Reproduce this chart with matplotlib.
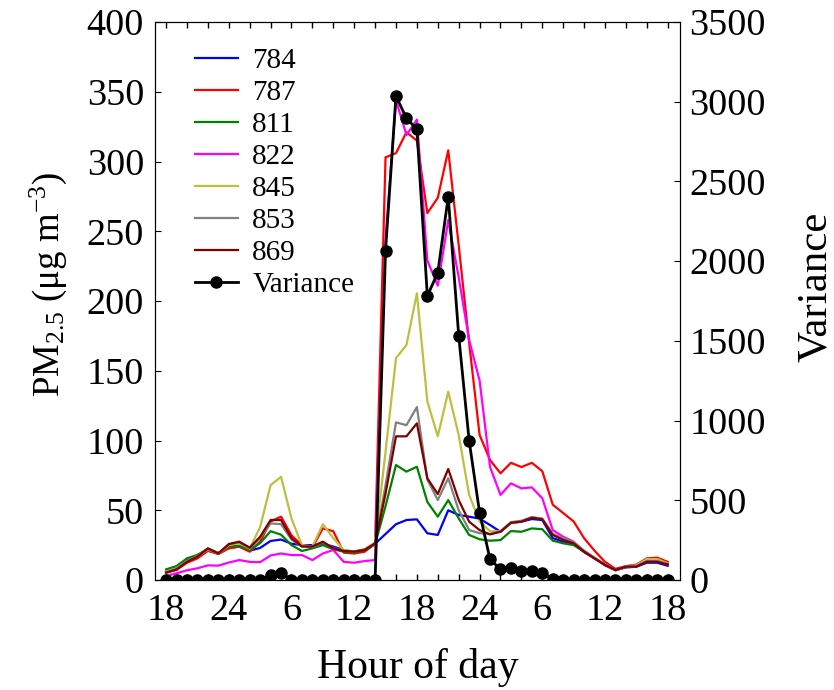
import numpy as np
import matplotlib.pyplot as plt
from matplotlib.ticker import MultipleLocator

plt.rcParams['font.family'] = 'Liberation Serif'
plt.rcParams['mathtext.fontset'] = 'custom'
plt.rcParams['mathtext.rm'] = 'Liberation Serif'
plt.rcParams['mathtext.it'] = 'Liberation Serif:italic'

# hours since 18:00 of day one
hours = list(range(49))
tick_labels = ['18', '24', '6', '12', '18', '24', '6', '12', '18']

s784 = [6, 9, 14, 17, 21, 19, 23, 24, 21, 23, 28, 29, 26, 25, 25, 26, 24, 21.5, 20, 21,
        26, 33, 40, 43, 43.5, 33.5, 32.3, 50, 46.6, 45.4, 44, 39.4, 34.6, 41, 41.8, 43.7, 43,
        30, 27.5, 26, 20, 15.5, 10.5, 7, 9, 9.5, 12.4, 12.4, 10.2]
s787 = [5.3, 7.2, 12.4, 15.5, 21, 18.6, 22.7, 23.9, 20.3, 27.5, 42, 45.4, 32, 25, 23.4, 37,
        35, 19.6, 19, 20.3, 26, 303, 306, 321, 315, 263, 274, 308, 240, 170, 104, 86, 76.5,
        84, 81, 84, 78, 54, 48, 42, 30, 21, 13, 8, 10, 11, 15.5, 16, 13]
s811 = [7.6, 10, 15.5, 18, 22.5, 19.5, 24, 24.6, 21.5, 26.5, 35, 32.5, 25, 20.8, 22.7, 25,
        22, 20.3, 19.6, 21.5, 25.5, 53, 82.4, 77.7, 81.2, 56, 45.4, 57.3, 44.2, 32.3, 29.2,
        28.2, 28.6, 35.1, 34.6, 37, 36.4, 28.2, 26.3, 25, 20.3, 15.5, 11.2, 7, 9.5, 10, 14,
        14, 12]
s822 = [2.9, 4.8, 7, 8.4, 10.5, 10.3, 12.5, 14.3, 13, 12.8, 17.6, 19, 17.9, 17.9, 14.3, 19,
        21.5, 13, 12.4, 13.6, 14.3, 245, 344, 319, 330, 229, 211, 258, 217, 172, 143, 81, 61,
        69.3, 65.7, 66.4, 58.6, 35.8, 31, 27.5, 20.5, 15.5, 11, 7, 9.5, 10, 14, 14, 11.5]
s845 = [6, 8.5, 13.5, 17, 22, 19, 25, 26.5, 22.5, 38, 68, 74, 44, 25, 24, 40, 30, 21.5,
        20.5, 22, 27, 92, 159, 168.5, 205.5, 128, 103, 135, 104, 61, 42, 35, 35, 41, 42, 45,
        44, 33, 29, 27, 21, 16, 11, 7, 9.8, 10.5, 15, 15, 12]
s853 = [5.5, 8, 13.5, 17, 22.5, 19, 25.5, 27, 22.8, 30, 40.6, 40, 29, 24, 24, 27, 23, 21,
        20.5, 22, 26, 68, 113, 111, 124, 72, 57.3, 73, 50, 35.8, 33.6, 33, 35, 41.5, 42.5, 45,
        44, 33, 30, 27, 21, 16, 11, 7, 9.6, 10, 13.5, 13.5, 11.5]
s869 = [5.3, 7.6, 13, 16.7, 22.7, 19, 25.8, 27.5, 23.2, 31, 43, 43, 30, 24, 24, 27.5, 22.7,
        20.8, 20.3, 21.5, 26.3, 62, 103, 103, 112.3, 72.9, 61.6, 79.6, 57.3, 41.8, 35.8, 32.7,
        34.6, 41, 41.8, 44.7, 43.5, 32.3, 28.7, 26.3, 20.3, 15.5, 10.8, 7.2, 9.6, 9.6, 13.1,
        13.1, 11.2]
variance = [3, 3, 3, 3, 3, 3, 3, 3, 3, 3, 31, 42, 3, 3, 3, 3, 3, 3, 3, 3,
            3, 2066, 3036, 2896, 2827, 1782, 1928, 2405, 1533, 874, 422, 130, 67, 77, 58, 58,
            42, 6, 3, 3, 3, 3, 3, 3, 3, 3, 3, 3, 3]

sites = ['784', '787', '811', '822', '845', '853', '869']
series = [s784, s787, s811, s822, s845, s853, s869]
colors = ['#0000ff', '#ff0000', '#008000', '#ff00ff', '#bfbf3f', '#808080', '#800000']

fig = plt.figure(figsize=(8.34, 6.9), dpi=100)
ax = fig.add_axes([0.186, 0.1594, 0.629, 0.8087])
ax2 = ax.twinx()

handles = []
for name, s, c in zip(sites, series, colors):
    h, = ax.plot(hours, s, color=c, lw=1.6, label=name)
    handles.append(h)
hv, = ax2.plot(hours, variance, color='black', lw=2, marker='o', ms=8, label='Variance')
handles.append(hv)

ax.set_xlim(-1.05, 49.15)
ax.set_ylim(0, 400)
ax2.set_ylim(0, 3500)
ax.set_xticks(range(0, 49, 6))
ax.set_xticklabels(tick_labels)
ax.xaxis.set_minor_locator(MultipleLocator(2))
ax.set_yticks(range(0, 401, 50))
ax2.set_yticks(range(0, 3501, 500))

ax.tick_params(axis='x', which='both', direction='in', top=True, length=4, width=1,
               labelsize=27.5, pad=10)
ax.tick_params(axis='y', direction='in', length=4, labelsize=27.5, pad=8)
ax2.tick_params(axis='y', direction='in', length=4, labelsize=27.5, pad=7)

ax.set_xlabel('Hour of day', fontsize=30, labelpad=14)
ax.set_ylabel('PM$_{2.5}$ (μg m$^{-3}$)', fontsize=26.5)
ax.yaxis.set_label_coords(-0.165, 0.53)
ax2.set_ylabel('Variance', fontsize=31)
ax2.yaxis.set_label_coords(1.222, 0.525)

ax.legend(handles=handles, loc='upper left', bbox_to_anchor=(0.053, 0.975), frameon=False,
          fontsize=21, labelspacing=0.19, handlelength=1.5, handletextpad=0.48,
          borderaxespad=0)

fig.savefig('out.png', dpi=100)
